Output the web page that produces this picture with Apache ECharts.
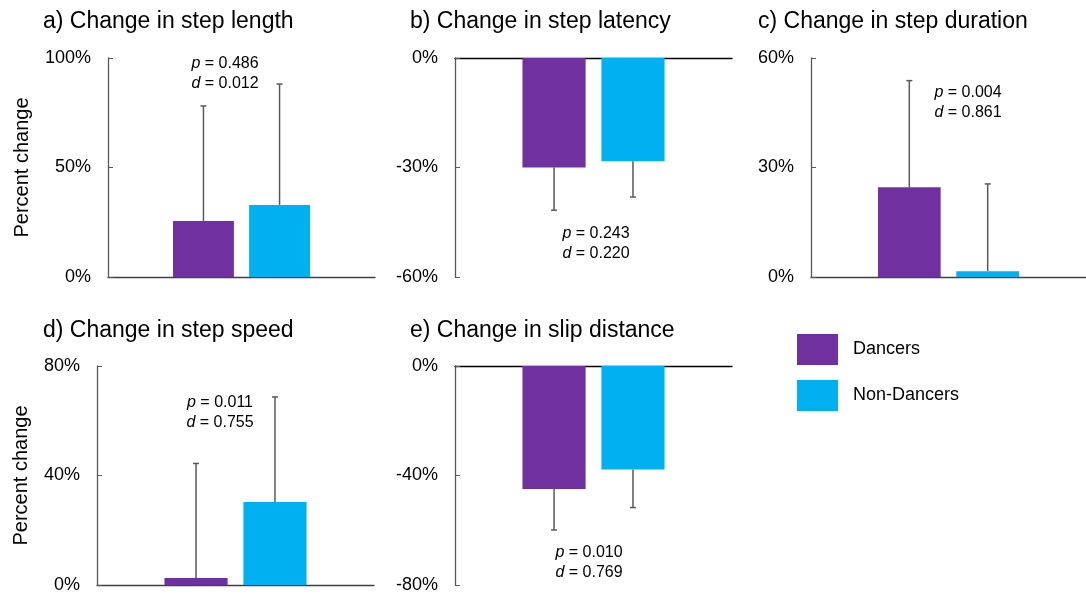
<!DOCTYPE html>
<html>
<head>
<meta charset="utf-8">
<script src="https://cdn.jsdelivr.net/npm/echarts@6/dist/echarts.min.js"></script>
<style>
html,body{margin:0;padding:0;background:#fff;}
#chart{width:1086px;height:598px;}
</style>
</head>
<body>
<div id="chart"></div>
<script>
// ---- data ----
const categories = [''];
const seriesNames = ['Dancers', 'Non-Dancers'];
const titles = ['a) Change in step length', 'b) Change in step latency', 'c) Change in step duration', 'd) Change in step speed', 'e) Change in slip distance'];
const dancers = [25.6, -30.0, 24.6, 2.6, -44.9];
const nonDancers = [32.9, -28.3, 1.6, 30.3, -37.8];
const dancersErr = [52.5, 11.7, 29.2, 41.8, 15.0];
const nonDancersErr = [55.2, 9.8, 23.9, 38.4, 13.9];
const yMin = [0, -60, 0, 0, -80];
const yMax = [100, 0, 60, 80, 0];
const yInterval = [50, 30, 30, 40, 40];
const pValues = ['0.486', '0.243', '0.004', '0.011', '0.010'];
const dValues = ['0.012', '0.220', '0.861', '0.755', '0.769'];
const yAxisNames = ['Percent change', '', '', 'Percent change', ''];

// ---- layout / style ----
const FONT = "'Liberation Sans', Arial, sans-serif";
const colors = ['#7030A0', '#00B0F0'];
const grids = [
  {left: 108, top: 58, width: 267, height: 219},
  {left: 455, top: 58, width: 277, height: 219},
  {left: 811, top: 58, width: 283, height: 219},
  {left: 97,  top: 366, width: 277, height: 219},
  {left: 455, top: 366, width: 277, height: 219}
];
const titlePos = [[43, 10], [410, 10], [758, 10], [43, 319], [410, 319]];
const notePos = [[225, 54], [596, 224], [968, 83], [220, 393], [589, 543]];
const nameGaps = [76, 0, 0, 66, 0];
const BAR_W = 0.228, BAR_GAP = 0.25;

const option = {
  backgroundColor: '#fff',
  animation: false,
  title: titles.map((t, i) => ({
    text: t, left: titlePos[i][0], top: titlePos[i][1], padding: 0,
    textStyle: {fontFamily: FONT, fontSize: 23, fontWeight: 'normal', color: '#000'}
  })),
  legend: {
    data: seriesNames, orient: 'vertical', left: 797, top: 334, padding: 0,
    itemWidth: 41, itemHeight: 31, itemGap: 15, icon: 'rect',
    textStyle: {fontFamily: FONT, fontSize: 18, color: '#000', padding: [6, 0, 0, 10]}
  },
  grid: grids,
  xAxis: grids.map((g, i) => ({
    type: 'category', gridIndex: i, data: categories,
    axisLine: {show: true, lineStyle: {color: yMax[i] === 0 ? '#000' : '#404040', width: 1.3}},
    axisTick: {show: false}, axisLabel: {show: false}, splitLine: {show: false}
  })),
  yAxis: grids.map((g, i) => ({
    type: 'value', gridIndex: i, min: yMin[i], max: yMax[i], interval: yInterval[i],
    name: yAxisNames[i], nameLocation: 'middle', nameGap: nameGaps[i], nameRotate: 90,
    nameTextStyle: {fontFamily: FONT, fontSize: 20, color: '#000'},
    axisLine: {show: true, lineStyle: {color: '#595959', width: 1.3}},
    axisTick: {show: true, inside: true, length: 5, lineStyle: {color: '#595959'}},
    axisLabel: {fontFamily: FONT, fontSize: 18, color: '#000', margin: 17, formatter: v => v + '%'},
    splitLine: {show: false}
  })),
  graphic: notePos.map((p, i) => ({
    type: 'text', x: p[0], y: p[1],
    style: {
      text: '{i|p} = ' + pValues[i] + '\n{i|d} = ' + dValues[i],
      font: '16px ' + FONT, fill: '#000', align: 'center', verticalAlign: 'top', lineHeight: 20,
      rich: {i: {fontStyle: 'italic', fontSize: 16, fontFamily: FONT, lineHeight: 20, fill: '#000'}}
    }
  })),
  series: []
};

function errSeries(i, vals, errs, side) {
  return {
    type: 'custom', xAxisIndex: i, yAxisIndex: i, silent: true, z: 1,
    data: [[0, vals[i], errs[i]]],
    renderItem: function (params, api) {
      const v = api.value(1), e = api.value(2);
      const end = v + (v < 0 ? -e : e);
      const band = api.size([1, 0])[0];
      const off = side * band * BAR_W * (1 + BAR_GAP) / 2;
      const p0 = api.coord([0, v]), p1 = api.coord([0, end]);
      const x = p0[0] + off;
      const st = {stroke: '#595959', lineWidth: 1.5};
      return {type: 'group', children: [
        {type: 'line', shape: {x1: x, y1: p0[1], x2: x, y2: p1[1]}, style: st},
        {type: 'line', shape: {x1: x - 3, y1: p1[1], x2: x + 3, y2: p1[1]}, style: st}
      ]};
    }
  };
}

for (let i = 0; i < 5; i++) {
  option.series.push({
    name: seriesNames[0], type: 'bar', xAxisIndex: i, yAxisIndex: i,
    data: [dancers[i]], barWidth: (BAR_W * 100) + '%', barGap: (BAR_GAP * 100) + '%',
    itemStyle: {color: colors[0]}, z: 2
  });
  option.series.push({
    name: seriesNames[1], type: 'bar', xAxisIndex: i, yAxisIndex: i,
    data: [nonDancers[i]], barWidth: (BAR_W * 100) + '%', barGap: (BAR_GAP * 100) + '%',
    itemStyle: {color: colors[1]}, z: 2
  });
  option.series.push(errSeries(i, dancers, dancersErr, -1));
  option.series.push(errSeries(i, nonDancers, nonDancersErr, 1));
}

const chart = echarts.init(document.getElementById('chart'), null, {renderer: 'canvas'});
chart.setOption(option);
</script>
</body>
</html>
